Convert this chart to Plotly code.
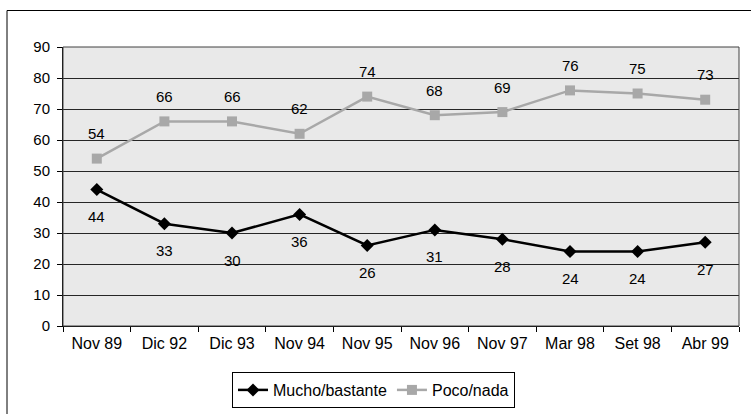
import plotly.graph_objects as go

categories = ["Nov 89", "Dic 92", "Dic 93", "Nov 94", "Nov 95", "Nov 96", "Nov 97", "Mar 98", "Set 98", "Abr 99"]
mucho_bastante = [44, 33, 30, 36, 26, 31, 28, 24, 24, 27]
poco_nada = [54, 66, 66, 62, 74, 68, 69, 76, 75, 73]
y_ticks = [0, 10, 20, 30, 40, 50, 60, 70, 80, 90]

FONT = "Liberation Sans, Arial, sans-serif"
BLACK_SERIES = "#000000"
GRAY_SERIES = "#a8a8a8"

fig = go.Figure()
fig.add_trace(go.Scatter(
    x=categories, y=mucho_bastante, name="Mucho/bastante",
    mode="lines+markers",
    line=dict(color=BLACK_SERIES, width=2.5),
    marker=dict(symbol="diamond", size=10, color=BLACK_SERIES),
))
fig.add_trace(go.Scatter(
    x=categories, y=poco_nada, name="Poco/nada",
    mode="lines+markers",
    line=dict(color=GRAY_SERIES, width=2.5),
    marker=dict(symbol="square", size=10, color=GRAY_SERIES),
))

annotations = []
for c, v in zip(categories, mucho_bastante):
    annotations.append(dict(x=c, y=v, xref="x", yref="y", text=str(v), showarrow=False,
                            yanchor="middle", xanchor="center", yshift=-27,
                            font=dict(family=FONT, size=15, color="#000000")))
for c, v in zip(categories, poco_nada):
    annotations.append(dict(x=c, y=v, xref="x", yref="y", text=str(v), showarrow=False,
                            yanchor="middle", xanchor="center", yshift=25,
                            font=dict(family=FONT, size=15, color="#000000")))

W, H = 751, 414
L, R, T, B = 63, 739, 47, 326
pw, ph = R - L, B - T

def px(x):
    return (x - L) / pw

def py(y):
    return (B - y) / ph

fig.update_layout(
    width=W, height=H,
    margin=dict(l=L, r=W - R, t=T, b=H - B, pad=0, autoexpand=False),
    paper_bgcolor="#ffffff",
    plot_bgcolor="#e9e9e9",
    font=dict(family=FONT, size=15, color="#000000"),
    hovermode=False,
    showlegend=True,
    annotations=annotations,
    legend=dict(
        orientation="h",
        x=px(373.5), xanchor="center",
        y=py(390), yanchor="middle",
        bordercolor="#000000", borderwidth=1,
        bgcolor="#ffffff",
        font=dict(family=FONT, size=16, color="#000000"),
        tracegroupgap=0,
    ),
    xaxis=dict(
        type="category",
        range=[-0.5, len(categories) - 0.5],
        showgrid=False,
        showline=True, linecolor="#000000", linewidth=1,
        mirror=False,
        ticks="outside", ticklen=5, tickcolor="#000000",
        tickson="boundaries",
        ticklabelstandoff=3,
        tickfont=dict(family=FONT, size=16, color="#000000"),
        fixedrange=True,
    ),
    yaxis=dict(
        range=[0, 90],
        tickvals=y_ticks,
        showgrid=True, gridcolor="#262626", gridwidth=1,
        showline=True, linecolor="#000000", linewidth=1,
        ticks="outside", ticklen=5, tickcolor="#000000",
        ticklabelstandoff=4,
        tickfont=dict(family=FONT, size=15, color="#000000"),
        zeroline=False,
        fixedrange=True,
    ),
    shapes=[
        dict(type="rect", xref="paper", yref="paper", x0=0, x1=1, y0=0, y1=1,
             line=dict(color="#404040", width=1), layer="above"),
        dict(type="rect", xref="paper", yref="paper",
             x0=px(7), x1=px(800), y0=py(460), y1=py(10.5),
             line=dict(color="#000000", width=1), fillcolor="rgba(0,0,0,0)", layer="below"),
    ],
)

fig.write_html(
    "out.html",
    config={"displayModeBar": False, "staticPlot": True},
    post_script="document.body.style.margin='0';document.body.style.padding='0';document.body.style.overflow='hidden';",
)
